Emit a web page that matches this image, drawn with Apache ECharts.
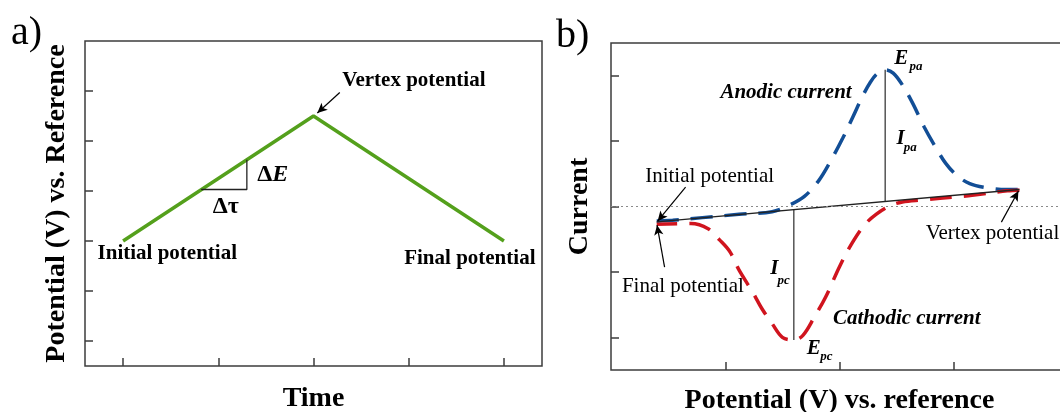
<!DOCTYPE html>
<html>
<head>
<meta charset="utf-8">
<script src="https://cdn.jsdelivr.net/npm/echarts@6/dist/echarts.min.js"></script>
<style>
  html, body { margin: 0; padding: 0; background: #fff; }
  #chart { width: 1060px; height: 412px; }
</style>
</head>
<body>
<div id="chart"></div>
<script>
// ---- a) triangular potential sweep ----
const sweepTime = [1, 3, 5];
const sweepPotential = [2, 4.5, 2];
const timeTicks = [1, 2, 3, 4, 5];
const potentialTicks = [0, 1, 2, 3, 4, 5];
const slopeRun = [1.82, 2.3];      // Δτ
const slopeRise = [3.03, 3.625];   // ΔE

// ---- b) cyclic voltammogram ----
const forwardPotential = [0.40, 0.54, 0.80, 1.12, 1.41, 1.56, 1.69, 1.82, 1.93, 2.03, 2.12, 2.20, 2.27, 2.33, 2.40,
                          2.47, 2.55, 2.64, 2.74, 2.84, 2.93, 3.03, 3.14, 3.28, 3.46, 3.575];
const forwardCurrent   = [-0.22, -0.21, -0.17, -0.12, -0.08, 0.02, 0.15, 0.40, 0.72, 1.05, 1.38, 1.68, 1.90, 2.03, 2.09,
                          2.04, 1.86, 1.58, 1.22, 0.91, 0.66, 0.47, 0.35, 0.29, 0.26, 0.26];
const reversePotential = [3.575, 3.47, 3.16, 3.03, 2.73, 2.55, 2.44, 2.32, 2.22, 2.11, 2.00, 1.88, 1.78, 1.68, 1.60,
                          1.50, 1.41, 1.32, 1.24, 1.12, 1.04, 0.95, 0.85, 0.70, 0.40];
const reverseCurrent   = [0.25, 0.24, 0.17, 0.15, 0.10, 0.07, 0.01, -0.12, -0.28, -0.56, -0.92, -1.38, -1.69, -1.97, -2.04,
                          -2.00, -1.79, -1.56, -1.31, -0.97, -0.69, -0.51, -0.34, -0.26, -0.27];
const baselinePotential = [0.40, 3.575];
const baselineCurrent = [-0.235, 0.26];
const anodicPeak = [2.40, 2.09];
const anodicFoot = 0.08;
const cathodicPeak = [1.60, -2.04];
const cathodicFoot = -0.05;
const cvPotentialTicks = [1, 2, 3];
const cvCurrentTicks = [-2, -1, 0, 1, 2];

const zip = (xs, ys) => xs.map((x, i) => [x, ys[i]]);
const serif = '"Liberation Serif", "Times New Roman", Times, serif';
const ink = '#000';
const frame = '#3c3c3c';

// text annotations, anchored in data coordinates
const sweepNotes = [
  { text: 'Vertex potential', at: [4.054, 5.214], kind: 'bold' },
  { text: 'Initial potential', at: [1.464, 1.754], kind: 'bold' },
  { text: 'Final potential', at: [4.642, 1.654], kind: 'bold' },
  { text: '{d|Δ}{e|E}', at: [2.573, 3.334], kind: 'delta' },
  { text: '{d|Δτ}', at: [2.079, 2.694], kind: 'delta' }
];
const sweepArrows = [
  { from: [3.276, 4.97], to: [3.04, 4.56] }
];
const cvNotes = [
  { text: 'Anodic current', at: [1.532, 1.736], kind: 'boldItalic' },
  { text: 'Cathodic current', at: [2.588, -1.713], kind: 'boldItalic' },
  { text: 'Initial potential', at: [0.863, 0.455], kind: 'plain' },
  { text: 'Final potential', at: [0.629, -1.219], kind: 'plain' },
  { text: 'Vertex potential', at: [2.75, -0.407], kind: 'plain', pos: 'right' },
  { text: 'E', at: [2.54, 2.257], kind: 'sym' },
  { text: 'pa', at: [2.67, 2.135], kind: 'sub' },
  { text: 'I', at: [2.535, 1.032], kind: 'sym' },
  { text: 'pa', at: [2.62, 0.894], kind: 'sub' },
  { text: 'I', at: [1.43, -0.943], kind: 'sym' },
  { text: 'pc', at: [1.51, -1.127], kind: 'sub' },
  { text: 'E', at: [1.775, -2.168], kind: 'sym' },
  { text: 'pc', at: [1.885, -2.291], kind: 'sub' }
];
const cvArrows = [
  { from: [0.653, 0.297], to: [0.408, -0.224] },
  { from: [0.469, -0.928], to: [0.403, -0.285] },
  { from: [3.417, -0.239], to: [3.566, 0.236] }
];

const textKinds = {
  bold:       { fontSize: 21, fontWeight: 'bold' },
  boldItalic: { fontSize: 21, fontWeight: 'bold', fontStyle: 'italic' },
  plain:      { fontSize: 21, fontWeight: 'normal' },
  sym:        { fontSize: 21, fontWeight: 'bold', fontStyle: 'italic' },
  sub:        { fontSize: 13, fontWeight: 'bold', fontStyle: 'italic' },
  delta:      { fontSize: 24, fontWeight: 'bold',
                rich: { d: { fontSize: 24, fontWeight: 'bold', fontFamily: serif, color: ink, opacity: 1 },
                        e: { fontSize: 24, fontWeight: 'bold', fontStyle: 'italic', fontFamily: serif, color: ink, opacity: 1 } } }
};

function noteSeries(idx, notes, arrows) {
  return {
    type: 'scatter', xAxisIndex: idx, yAxisIndex: idx, silent: true, z: 10,
    symbolSize: 1, itemStyle: { color: 'rgba(255,255,255,0)', opacity: 1 },
    data: notes.map(n => ({
      value: n.at,
      label: Object.assign({
        show: true, position: n.pos || 'inside', distance: 0, opacity: 1,
        formatter: n.text, fontFamily: serif, color: ink
      }, textKinds[n.kind])
    })),
    markLine: {
      silent: true, animation: false,
      symbol: ['none', 'arrow'], symbolSize: [7, 10],
      lineStyle: { color: ink, width: 1.2, type: 'solid', opacity: 1 },
      itemStyle: { color: ink },
      label: { show: false },
      emphasis: { disabled: true },
      data: arrows.map(a => [{ coord: a.from }, { coord: a.to }])
    }
  };
}

function frameAxis(extra) {
  return Object.assign({
    type: 'value',
    axisLine: { show: false, onZero: false },
    splitLine: { show: false },
    axisLabel: { show: false },
    nameLocation: 'middle',
    nameTextStyle: { fontFamily: serif, fontSize: 28, fontWeight: 'bold', color: ink }
  }, extra);
}
const tick = vals => ({ show: true, inside: true, length: 8, customValues: vals,
                        lineStyle: { color: frame, width: 1.5 } });

const chart = echarts.init(document.getElementById('chart'), null, { renderer: 'canvas' });
chart.setOption({
  animation: false,
  backgroundColor: '#fff',
  title: [
    { text: 'a)', left: 6, top: 8, textStyle: { fontFamily: serif, fontSize: 40, fontWeight: 'normal', color: ink } },
    { text: 'b)', left: 551, top: 11, textStyle: { fontFamily: serif, fontSize: 40, fontWeight: 'normal', color: ink } }
  ],
  grid: [
    { left: 85, top: 41, width: 457, height: 325, show: true, borderColor: frame, borderWidth: 1.5,
      backgroundColor: 'transparent', containLabel: false, outerBoundsMode: 'none' },
    { left: 611, top: 43, width: 457, height: 327, show: true, borderColor: frame, borderWidth: 1.5,
      backgroundColor: 'transparent', containLabel: false, outerBoundsMode: 'none' }
  ],
  xAxis: [
    frameAxis({ gridIndex: 0, min: 0.6, max: 5.4, axisTick: tick(timeTicks), name: 'Time', nameGap: 19 }),
    frameAxis({ gridIndex: 1, min: 0, max: 4, axisTick: tick(cvPotentialTicks), name: 'Potential (V) vs. reference', nameGap: 17 })
  ],
  yAxis: [
    frameAxis({ gridIndex: 0, min: -0.5, max: 6, axisTick: tick(potentialTicks), name: 'Potential (V) vs. Reference', nameGap: 14 }),
    frameAxis({ gridIndex: 1, min: -2.5, max: 2.5, axisTick: tick(cvCurrentTicks), name: 'Current', nameGap: 17 })
  ],
  series: [
    // a) potential ramp
    {
      type: 'line', xAxisIndex: 0, yAxisIndex: 0, silent: true, symbol: 'none',
      data: zip(sweepTime, sweepPotential),
      lineStyle: { color: '#54a01c', width: 3.5 }
    },
    {
      type: 'line', xAxisIndex: 0, yAxisIndex: 0, silent: true, symbol: 'none',
      data: [[slopeRun[0], slopeRise[0]], [slopeRun[1], slopeRise[0]], [slopeRun[1], slopeRise[1]]],
      lineStyle: { color: '#222', width: 1.3 }
    },
    noteSeries(0, sweepNotes, sweepArrows),

    // b) zero-current reference
    {
      type: 'line', xAxisIndex: 1, yAxisIndex: 1, silent: true, symbol: 'none', data: [],
      markLine: {
        silent: true, symbol: 'none', label: { show: false },
        lineStyle: { color: '#8a8a8a', width: 1, type: [2, 3] },
        data: [{ yAxis: 0 }]
      }
    },
    // forward (anodic) scan
    {
      type: 'line', xAxisIndex: 1, yAxisIndex: 1, silent: true, symbol: 'none', smooth: 0.35,
      data: zip(forwardPotential, forwardCurrent),
      lineStyle: { color: '#124e96', width: 3.5, type: [22, 12], cap: 'butt' }
    },
    // reverse (cathodic) scan
    {
      type: 'line', xAxisIndex: 1, yAxisIndex: 1, silent: true, symbol: 'none', smooth: 0.35,
      data: zip(reversePotential, reverseCurrent),
      lineStyle: { color: '#d0141e', width: 3.5, type: [22, 12], cap: 'butt' }
    },
    // capacitive baseline
    {
      type: 'line', xAxisIndex: 1, yAxisIndex: 1, silent: true, symbol: 'none', z: 4,
      data: zip(baselinePotential, baselineCurrent),
      lineStyle: { color: '#222', width: 1.3 }
    },
    // peak currents
    {
      type: 'line', xAxisIndex: 1, yAxisIndex: 1, silent: true, symbol: 'none',
      data: [[anodicPeak[0], anodicFoot], anodicPeak],
      lineStyle: { color: '#555', width: 1.5 }
    },
    {
      type: 'line', xAxisIndex: 1, yAxisIndex: 1, silent: true, symbol: 'none',
      data: [[cathodicPeak[0], cathodicFoot], cathodicPeak],
      lineStyle: { color: '#555', width: 1.5 }
    },
    noteSeries(1, cvNotes, cvArrows)
  ]
});
</script>
</body>
</html>
